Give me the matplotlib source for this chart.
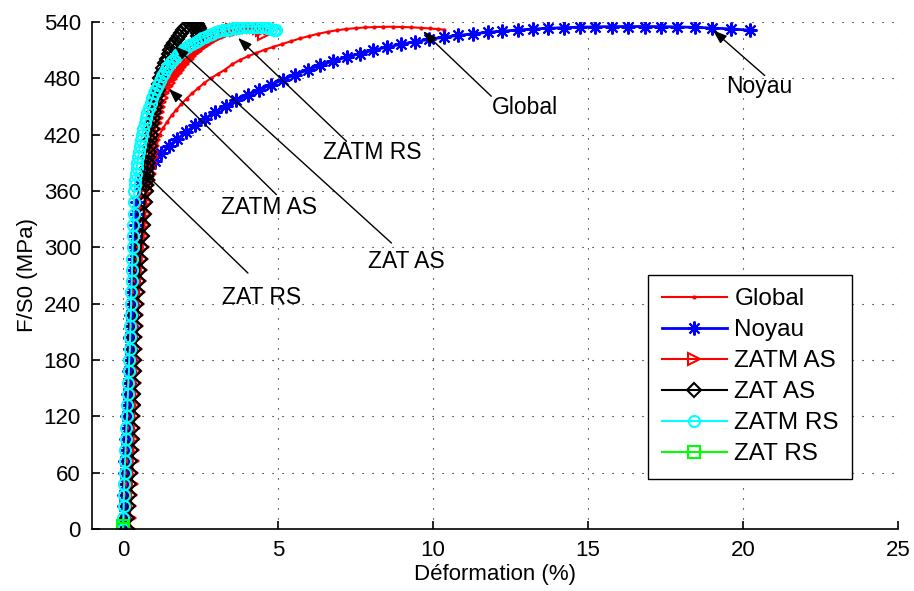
import matplotlib.pyplot as plt
import numpy as np

plt.rcParams['font.family'] = ['Liberation Sans', 'DejaVu Sans']

# common stress levels for the elastic part (MPa)
el_stress = [0, 12, 24, 36, 48, 60, 72, 84, 96, 108, 120, 132, 144, 156, 168,
             180, 192, 204, 216, 228, 240, 252, 264, 276, 288, 300, 312, 324, 336, 348]

# Global
glob_el = [0.14, 0.16, 0.18, 0.20, 0.22, 0.24, 0.26, 0.28, 0.29, 0.30, 0.31, 0.32, 0.33, 0.34, 0.35,
           0.36, 0.37, 0.38, 0.39, 0.41, 0.43, 0.45, 0.48, 0.51, 0.54, 0.57, 0.60, 0.63, 0.66, 0.69]
glob_x = [0.74, 0.79, 0.85, 0.92, 1.00, 1.08, 1.18, 1.30, 1.43, 1.57, 1.72, 1.88, 2.05, 2.23, 2.42,
          2.62, 2.83, 3.05, 3.28, 3.52, 3.77, 4.03, 4.30, 4.57, 4.85, 5.13, 5.42, 5.71, 6.00, 6.30,
          6.60, 6.90, 7.20, 7.50, 7.80, 8.10, 8.40, 8.70, 9.00, 9.30, 9.60, 9.90, 10.15, 10.37]
glob_y = [358, 368, 380, 392, 403, 412, 420, 427.5, 434, 440.5, 446.5, 452.5, 458.5, 464, 469.5,
          475, 480, 484.5, 489, 495, 499.5, 503.5, 507, 510.5, 513.5, 516.5, 519.5, 522.5, 525, 527.5,
          529.5, 531.2, 532.5, 533.5, 534.2, 534.6, 534.9, 534.9, 534.7, 534.3, 533.8, 533.1, 532.5, 531.8]

# Noyau
noy_el = [0.01, 0.02, 0.03, 0.04, 0.05, 0.06, 0.08, 0.09, 0.11, 0.12, 0.14, 0.15, 0.17, 0.18, 0.20,
          0.21, 0.23, 0.24, 0.25, 0.27, 0.28, 0.30, 0.31, 0.33, 0.35, 0.37, 0.39, 0.41, 0.43, 0.46]
noy_x = [0.55, 0.67, 0.83, 1.02, 1.24, 1.48, 1.74, 2.02, 2.32, 2.64, 2.97, 3.31, 3.66, 4.02, 4.39,
         4.77, 5.16, 5.56, 5.96, 6.37, 6.79, 7.21, 7.64, 8.08, 8.52, 8.97, 9.42, 9.88, 10.34, 10.81,
         11.28, 11.76, 12.24, 12.73, 13.22, 13.72, 14.22, 14.73, 15.24, 15.77, 16.29, 16.83, 17.35,
         17.88, 18.44, 19.01, 19.62, 20.24]
noy_y = [366, 375, 384, 392, 400, 408, 415, 422.5, 430, 437, 444, 450.5, 456.5, 462, 467.5,
         473, 478.5, 484, 489, 494, 498.5, 502.5, 506.3, 510, 513.3, 516.3, 519, 521.5, 523.7, 525.7,
         527.4, 529, 530.3, 531.5, 532.5, 533.3, 534, 534.5, 534.9, 535.1, 535.2, 535.2, 535.1,
         534.8, 534.3, 533.6, 532.6, 531.2]

# ZATM AS
zatm_as_el = [0.20, 0.22, 0.24, 0.26, 0.28, 0.30, 0.31, 0.32, 0.33, 0.34, 0.35, 0.36, 0.37, 0.38, 0.39,
              0.40, 0.41, 0.42, 0.44, 0.46, 0.48, 0.51, 0.54, 0.57, 0.60, 0.63, 0.66, 0.69, 0.72, 0.75]
zatm_as_x = [0.79, 0.81, 0.83, 0.855, 0.88, 0.905, 0.93, 0.95, 0.97, 0.99, 1.01, 1.035, 1.06, 1.09,
             1.12, 1.16, 1.20, 1.25, 1.30, 1.36, 1.42, 1.485, 1.55, 1.625, 1.70, 1.775, 1.85, 1.925,
             2.00, 2.085, 2.17, 2.26, 2.35, 2.445, 2.54, 2.64, 2.74, 2.845, 2.95, 3.06, 3.17, 3.285,
             3.40, 3.515, 3.63, 3.745, 3.86, 3.97, 4.08, 4.19, 4.30, 4.39, 4.47, 4.56]
zatm_as_y = [360, 366, 372, 378, 384, 390, 396, 402, 408, 414, 420, 426, 432, 438,
             444, 449.5, 455, 459.5, 464, 468, 472, 475.5, 479, 482.5, 486, 489, 492, 495,
             498, 501, 504, 507, 509.5, 512, 514.5, 517, 519, 521, 523, 525, 526.5, 528,
             529.5, 531, 532, 533, 534, 534.5, 535, 535, 535, 534, 532, 527]

# ZAT AS
zat_as_el = [0.12, 0.14, 0.16, 0.18, 0.20, 0.22, 0.24, 0.26, 0.28, 0.29, 0.30, 0.31, 0.32, 0.33, 0.34,
             0.35, 0.36, 0.37, 0.38, 0.40, 0.42, 0.45, 0.48, 0.52, 0.55, 0.58, 0.61, 0.64, 0.67, 0.70]
zat_as_x = [0.73, 0.745, 0.76, 0.775, 0.79, 0.805, 0.82, 0.84, 0.86, 0.88, 0.90, 0.92, 0.94, 0.965,
            0.99, 1.02, 1.05, 1.085, 1.12, 1.16, 1.20, 1.25, 1.30, 1.355, 1.41, 1.47, 1.53, 1.595,
            1.66, 1.73, 1.80, 1.87, 1.94, 2.01, 2.08, 2.15, 2.22, 2.28, 2.34, 2.38, 2.42, 2.44,
            2.44, 2.43, 2.41, 2.38]
zat_as_y = [360, 366, 372, 378, 384, 390, 396, 402, 408, 414, 420, 426, 432, 438,
            444, 450, 456, 462, 468, 474, 480, 485.5, 491, 496, 501, 505.5, 510, 514,
            518, 521.5, 525, 528, 531, 533.5, 536, 538, 539.5, 539.5, 539, 537.5, 536, 533.5,
            531, 528, 525, 520]

# ZATM RS
zatm_rs_el = [0.00, 0.01, 0.02, 0.03, 0.04, 0.05, 0.07, 0.08, 0.10, 0.11, 0.13, 0.14, 0.16, 0.17, 0.19,
              0.20, 0.22, 0.23, 0.24, 0.25, 0.26, 0.27, 0.28, 0.29, 0.30, 0.31, 0.32, 0.33, 0.34, 0.35]
zatm_rs_x = [0.37, 0.385, 0.40, 0.42, 0.44, 0.465, 0.49, 0.52, 0.55, 0.585, 0.62, 0.66, 0.70, 0.745,
             0.79, 0.84, 0.89, 0.945, 1.00, 1.06, 1.12, 1.185, 1.25, 1.32, 1.39, 1.465, 1.54, 1.62,
             1.70, 1.785, 1.87, 1.96, 2.05, 2.145, 2.24, 2.34, 2.44, 2.545, 2.65, 2.76, 2.87, 2.985,
             3.10, 3.22, 3.34, 3.46, 3.58, 3.705, 3.83, 3.955, 4.08, 4.205, 4.33, 4.45, 4.57, 4.68,
             4.78, 4.87, 4.95]
zatm_rs_y = [360, 366, 372, 378, 384, 390, 396, 402, 408, 414, 420, 426, 432, 437.5,
             443, 448.5, 454, 459, 464, 468.5, 473, 477.5, 482, 486, 490, 493.5, 497, 500,
             503, 506, 508.5, 511, 513, 515, 517, 519, 521, 523, 524.5, 526, 527.5, 529,
             530, 531, 532, 533, 533.5, 534, 534.5, 535, 535, 535, 535, 535, 534.5, 534,
             533, 532, 531]

# ZAT RS
zat_rs_x = [0.0, 0.01]
zat_rs_y = [0, 3]

# annotations: label, arrow tip, arrow tail, text centre
labels = ['Global', 'Noyau', 'ZATM RS', 'ZATM AS', 'ZAT AS', 'ZAT RS']
tips = [(9.68, 530.2), (19.03, 531.2), (3.71, 523.1), (1.48, 468.8), (1.67, 514.2), (0.59, 382.7)]
tails = [(11.88, 460.9), (20.7, 483.0), (7.21, 412.9), (4.95, 356.1), (8.66, 304.6), (4.03, 272.6)]
text_pos = [(12.98, 448.5), (20.51, 471.5), (8.04, 400.5), (4.71, 342.8), (9.15, 284.6), (4.47, 246.3)]

fig = plt.figure(figsize=(9.14, 5.91), dpi=100)
ax = fig.add_axes([92 / 914, 62 / 591, 806 / 914, 507 / 591])

ax.plot(glob_el + glob_x, el_stress + glob_y, color='r', lw=1.5, marker='.', ms=4, label='Global')
ax.plot(noy_el + noy_x, el_stress + noy_y, color='b', lw=2, marker=(8, 2, 0), ms=10, mew=1.5,
        label='Noyau')
ax.plot(zatm_as_el + zatm_as_x, el_stress + zatm_as_y, color='r', lw=1.5, marker='>', ms=8,
        mfc='none', mew=1.5, label='ZATM AS')
ax.plot(zat_as_el + zat_as_x, el_stress + zat_as_y, color='k', lw=1.5, marker='D', ms=7,
        mfc='none', mew=1.5, label='ZAT AS')
ax.plot(zatm_rs_el + zatm_rs_x, el_stress + zatm_rs_y, color='#00ffff', lw=1.5, marker='o', ms=8,
        mfc='none', mew=1.5, label='ZATM RS')
ax.plot(zat_rs_x, zat_rs_y, color='#00ff00', lw=1.5, marker='s', ms=8, mfc='none', mew=1.5,
        label='ZAT RS')

for lab, tip, tail, tp in zip(labels, tips, tails, text_pos):
    ax.annotate('', xy=tip, xytext=tail,
                arrowprops=dict(arrowstyle='-|>,head_length=0.7,head_width=0.25',
                                color='k', lw=1, mutation_scale=12, shrinkA=0, shrinkB=0))
    ax.text(tp[0], tp[1], lab, fontsize=16.5, ha='center', va='center')

ax.set_xlim(-1, 25)
ax.set_ylim(0, 540)
ax.set_xticks([0, 5, 10, 15, 20, 25])
ax.set_yticks(np.arange(0, 541, 60))
ax.grid(True, color='k', linestyle=(0, (1, 8)), linewidth=0.8)
ax.spines['top'].set_visible(False)
ax.spines['right'].set_visible(False)
ax.spines['left'].set_linewidth(1.2)
ax.spines['bottom'].set_linewidth(1.2)
ax.tick_params(direction='in', length=6, width=1.2, labelsize=16, pad=8)
ax.set_xlabel('Déformation (%)', fontsize=16, labelpad=2)
ax.set_ylabel('F/S0 (MPa)', fontsize=16, labelpad=4)

leg = ax.legend(loc='upper left', bbox_to_anchor=(0.69, 0.501), borderaxespad=0, fontsize=17.5,
                handlelength=2.7, handletextpad=0.3, labelspacing=0.37, borderpad=0.55,
                fancybox=False, framealpha=1, edgecolor='k')
leg.get_frame().set_linewidth(1)

fig.savefig('out.png', dpi=100)
